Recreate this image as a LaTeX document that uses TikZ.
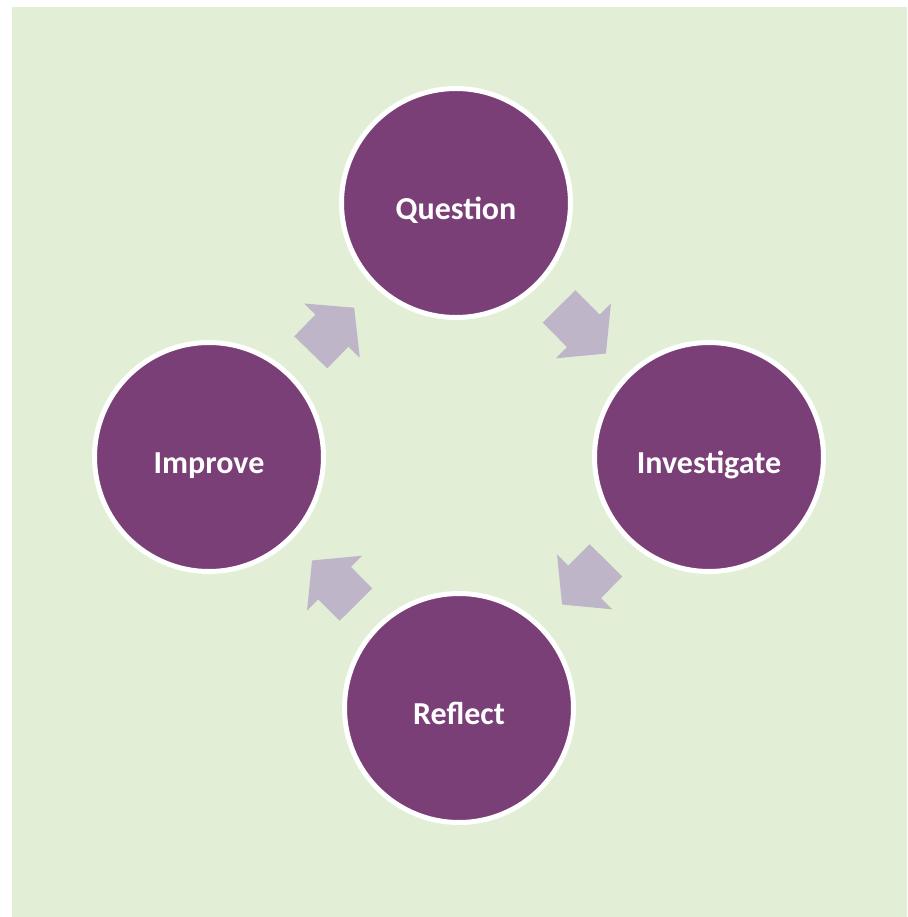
\documentclass[tikz,border=0pt]{standalone}
\usepackage{fontspec}
\setmainfont{Carlito}
\usetikzlibrary{arrows.meta}
\definecolor{bggreen}{RGB}{226,238,214}
\definecolor{plum}{RGB}{123,63,119}
\definecolor{lilac}{RGB}{190,181,201}
\tikzset{
  stage/.style={circle,draw=white,line width=2.5pt,fill=plum,minimum size=114.5pt,inner sep=0pt,
    text=white,text height=16pt,text depth=0pt,font=\fontsize{16}{19}\selectfont\bfseries},
  flow/.style={lilac,line width=23pt,-{Triangle[length=16pt,width=38pt]},
    shorten <=14.5pt,shorten >=14.5pt}
}
\begin{document}
\begin{tikzpicture}[x=0.5pt,y=-0.5pt]
  \useasboundingbox (0,0) rectangle (907,917);
  \fill[white] (0,0) rectangle (907,917);
  \fill[bggreen] (12,7) rectangle (907,917);
  \node[stage] (question) at (456,203) {Question};
  \node[stage] (investigate) at (709,457) {Investigate};
  \node[stage] (reflect) at (459,708) {Reflect};
  \node[stage] (improve) at (209,457) {Improve};
  \draw[flow] (question) -- (investigate);
  \draw[flow] (investigate) -- (reflect);
  \draw[flow] (reflect) -- (improve);
  \draw[flow] (improve) -- (question);
\end{tikzpicture}
\end{document}
